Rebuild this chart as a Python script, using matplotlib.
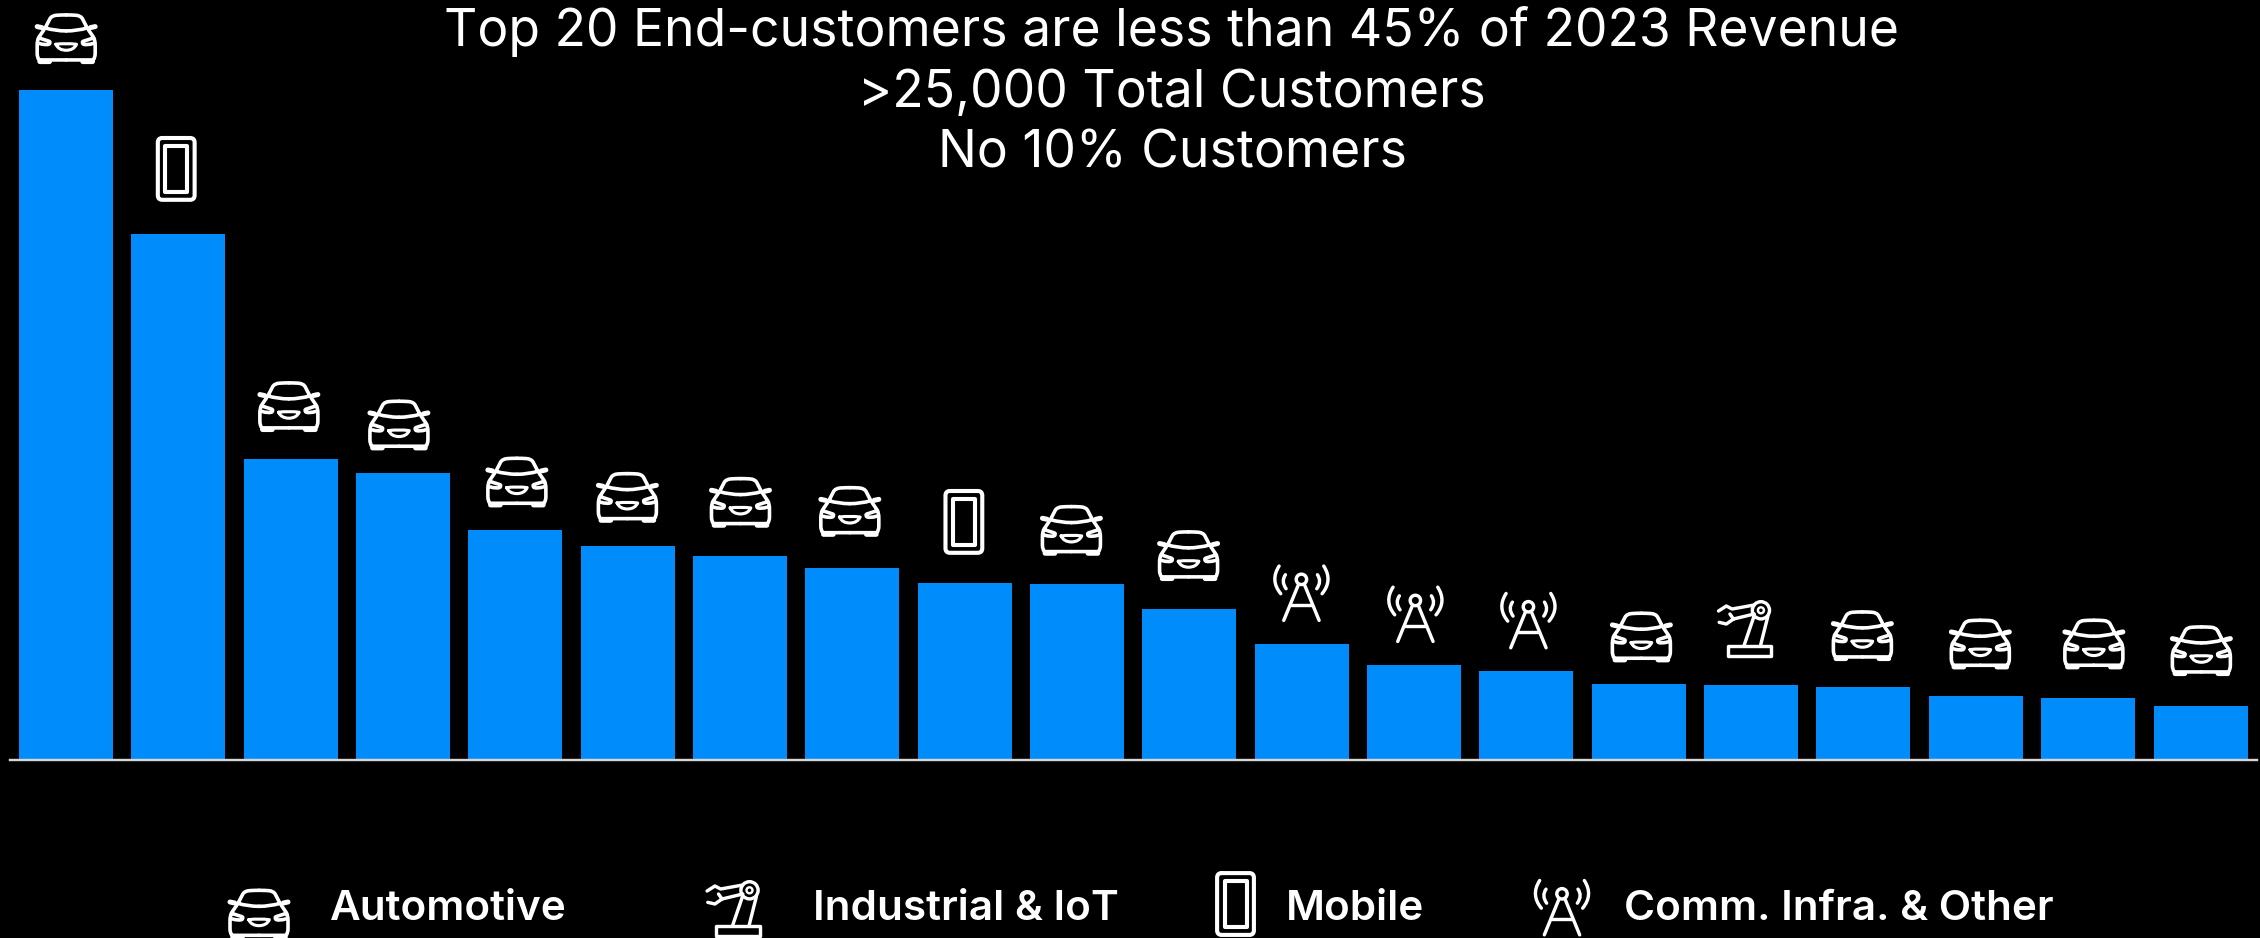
import matplotlib
matplotlib.use("Agg")
import matplotlib.pyplot as plt
from matplotlib.patches import PathPatch
from matplotlib.path import Path
from matplotlib.transforms import Affine2D

# Share of 2023 revenue for the top 20 end-customers (%), largest first
customer_share = [7.705, 6.049, 3.462, 3.297, 2.648, 2.461, 2.343, 2.211, 2.032, 2.021,
                  1.737, 1.331, 1.093, 1.024, 0.874, 0.859, 0.843, 0.739, 0.713, 0.621]
customer_segment = ["car", "phone", "car", "car", "car", "car", "car", "car", "phone", "car",
                    "car", "tower", "tower", "tower", "car", "robot", "car", "car", "car", "car"]
title_lines = ["Top 20 End-customers are less than 45% of 2023 Revenue",
               ">25,000 Total Customers",
               "No 10% Customers"]
legend_segments = ["car", "robot", "phone", "tower"]
legend_labels = ["Automotive", "Industrial & IoT", "Mobile", "Comm. Infra. & Other"]

# Small hand placement of each icon above its bar, in pixels
icon_dx = [0.3, -2, -1.7, -4, 1.6, -0.25, 0.5, -2.5, -0.8, -5.6,
           -0.8, -0.3, 1.3, 2, 2.6, -6.2, -1.1, 4.5, 5.7, 0.85]
icon_gap = [26, 32.3, 27, 23, 22.4, 23.3, 28.6, 31, 28.6, 28.6,
            28, 22.7, 22.3, 22, 21.7, 27.3, 25.7, 26.4, 28.7, 30]
icon_half_height = {"car": 25.4, "phone": 32.8, "tower": 28.5, "robot": 29}

BAR_BLUE = "#008CFA"
W, H = 2260, 938
PX = 72 / 100  # points per pixel at 100 dpi


def build_path(cmds, cx, cy, sx=3.0, sy=3.0):
    """Turn M/L/Q commands in design units into a path centred on (0, 0), in pixels."""
    verts, codes = [], []
    conv = lambda x, y: ((x - cx) / sx, (y - cy) / sy)
    for c in cmds:
        if c[0] == "M":
            verts.append(conv(c[1], c[2])); codes.append(Path.MOVETO)
        elif c[0] == "L":
            for k in range(1, len(c), 2):
                verts.append(conv(c[k], c[k + 1])); codes.append(Path.LINETO)
        elif c[0] == "Q":
            verts += [conv(c[1], c[2]), conv(c[3], c[4])]
            codes += [Path.CURVE3, Path.CURVE3]
    return Path(verts, codes)


def rounded_rect(hw, hh, r):
    return build_path([("M", -hw + r, -hh), ("L", hw - r, -hh), ("Q", hw, -hh, hw, -hh + r),
                       ("L", hw, hh - r), ("Q", hw, hh, hw - r, hh), ("L", -hw + r, hh),
                       ("Q", -hw, hh, -hw, hh - r), ("L", -hw, -hh + r), ("Q", -hw, -hh, -hw + r, -hh)],
                      0, 0, 1, 1)


def box(x0, y0, x1, y1):
    return Path([(x0, y0), (x1, y0), (x1, y1), (x0, y1), (x0, y0)],
                [Path.MOVETO, Path.LINETO, Path.LINETO, Path.LINETO, Path.CLOSEPOLY])


def mirrored(cmds, axis):
    out = []
    for c in cmds:
        vals = list(c[1:])
        for k in range(0, len(vals), 2):
            vals[k] = 2 * axis - vals[k]
        out.append((c[0], *vals))
    return out


car_side = [("M", 199, 45), ("Q", 182, 45, 170, 46), ("Q", 155, 47, 150, 57), ("L", 136, 84),
            ("M", 199, 93), ("Q", 165, 93, 136, 84),
            ("M", 132, 90), ("L", 117, 112), ("Q", 112, 120, 112, 136), ("L", 112, 160),
            ("Q", 112, 174, 118, 180), ("L", 199, 180),
            ("M", 120, 115), ("L", 148, 124), ("Q", 154, 128, 147, 133), ("Q", 135, 136, 120, 131)]
car_grille = [("M", 168, 133), ("Q", 199, 129, 230, 133), ("Q", 222, 151, 199, 151),
              ("Q", 176, 151, 168, 133)]
car_heavy = [("M", 112, 80), ("L", 126, 83), ("M", 120, 185), ("L", 149, 185)]

tower_side = [("M", 1078, 180), ("L", 1035, 285),
              ("M", 1040, 148), ("Q", 1026, 168, 1042, 190),
              ("M", 1021, 122), ("Q", 993, 165, 1026, 205)]
tower_bar = [("M", 1057, 238), ("L", 1119, 238)]

robot_lines = [("M", 1440, 165), ("L", 1378, 177), ("L", 1362, 168), ("L", 1340, 183),
               ("M", 1440, 192), ("L", 1382, 207), ("L", 1372, 192),
               ("M", 1382, 207), ("L", 1362, 222), ("L", 1342, 217),
               ("M", 1440, 197), ("L", 1412, 285),
               ("M", 1478, 200), ("L", 1458, 285)]

ICONS = {
    "car": [
        (build_path(car_side, 199, 116), 3.6),
        (build_path(mirrored(car_side, 199), 199, 116), 3.6),
        (build_path(car_grille, 199, 116), 3.1),
        (build_path(car_heavy, 199, 116), 5.0),
        (build_path(mirrored(car_heavy, 199), 199, 116), 5.0),
    ],
    "phone": [
        (rounded_rect(18.4, 30.9, 4.5), 4.1),
        (box(-11, -23, 11, 23), 4.1),
    ],
    "tower": [
        (build_path(tower_side, 1088, 203), 3.4),
        (build_path(mirrored(tower_side, 1088), 1088, 203), 3.4),
        (build_path(tower_bar, 1088, 203), 3.4),
        (Path.circle((0, -13.7), 5.2), 3.4),
    ],
    "robot": [
        (build_path(robot_lines, 1414, 237, 2.8, 3.0), 3.4),
        (box(-17.3, 16.7, 26.1, 27), 3.4),
        (Path.circle((16, -18.7), 8.6), 3.4),
        (Path.circle((16, -18.7), 3.0), 2.4),
    ],
}

fig = plt.figure(figsize=(W / 100, H / 100), dpi=100, facecolor="black")

# Bar axes: spans the baseline rule, with the tallest bar reaching the top of the axes
left, right, base, top = 9.7, 2256.7, 760.0, 90.0
ax = fig.add_axes([left / W, 1 - base / H, (right - left) / W, (base - top) / H])
ax.set_facecolor("none")
positions = list(range(len(customer_share)))
ax.bar(positions, customer_share, width=0.837, color=BAR_BLUE, linewidth=0)
ax.set_xlim(-0.5, 19.5)
ax.set_ylim(0, max(customer_share))
ax.set_xticks([])
ax.set_yticks([])
for side in ("top", "left", "right"):
    ax.spines[side].set_visible(False)
ax.spines["bottom"].set_color("#D6D6D6")
ax.spines["bottom"].set_linewidth(2.4 * PX)
ax.spines["bottom"].set_zorder(5)

# Full-figure overlay in pixel coordinates for icons and text
ov = fig.add_axes([0, 0, 1, 1])
ov.set_xlim(0, W)
ov.set_ylim(H, 0)
ov.axis("off")
ov.patch.set_alpha(0)


def draw_icon(kind, cx, cy):
    for path, lw in ICONS[kind]:
        ov.add_patch(PathPatch(path, transform=Affine2D().translate(cx, cy) + ov.transData,
                               facecolor="none", edgecolor="white", linewidth=lw * PX,
                               capstyle="round", joinstyle="round", clip_on=False))


for i, (share, kind) in enumerate(zip(customer_share, customer_segment)):
    dx, dy = ax.transData.transform((i, share))
    draw_icon(kind, dx + icon_dx[i], H - dy - icon_gap[i] - icon_half_height[kind])

# Title block
for line, baseline in zip(title_lines, [46, 107, 167.7]):
    ov.text(1172, baseline, line, ha="center", va="baseline", color="white",
            fontsize=37.2, family="Inter", fontweight="normal")

# Legend row
legend_icon_xy = [(259, 914), (733.5, 909), (1235.5, 904), (1562, 907.5)]
legend_text_x = [330, 813, 1285.5, 1623.5]
for kind, label, (ix, iy), tx in zip(legend_segments, legend_labels, legend_icon_xy, legend_text_x):
    draw_icon(kind, ix, iy)
    ov.text(tx, 920, label, ha="left", va="baseline", color="white",
            fontsize=30.4, family="Inter", fontweight="semibold")

fig.savefig("out.png", dpi=100, facecolor="black")
